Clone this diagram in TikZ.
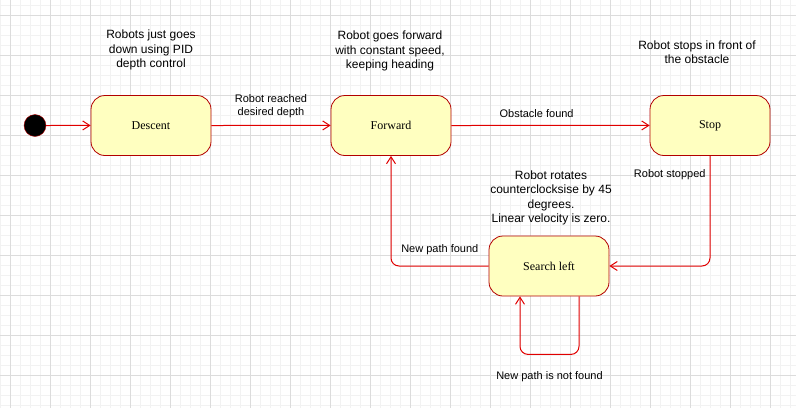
\documentclass[tikz,border=0pt]{standalone}
\usepackage{fontspec}
\setmainfont{Liberation Serif}
\newfontfamily\arialfont{Liberation Sans}
\usetikzlibrary{arrows.meta}

\definecolor{riempimento}{HTML}{FFFFC0}
\definecolor{bordo}{HTML}{B20000}
\definecolor{linea}{HTML}{E00000}
\definecolor{grigliaminore}{HTML}{F2F2F2}
\definecolor{grigliamaggiore}{HTML}{DCDCDC}

\tikzset{
  stato/.style={draw=bordo, fill=riempimento, line width=0.8pt, rounded corners=14pt,
    minimum width=120pt, minimum height=60pt, inner sep=0pt, text=black, font=\fontsize{12}{14}\selectfont},
  freccia/.style={draw=linea, line width=1pt, -{Straight Barb[length=7pt,width=9pt]}},
  etichetta/.style={font=\arialfont\fontsize{11}{13}\selectfont, align=center, inner sep=1pt, text=black},
  nota/.style={font=\arialfont\fontsize{12}{14.5}\selectfont, align=center, inner sep=0pt, text=black},
}

\begin{document}
\begin{tikzpicture}[x=1pt, y=-1pt]
% Definisci le dimensioni
\def\larghezza{796}
\def\altezza{408}
\useasboundingbox (0,0) rectangle (\larghezza,\altezza);

% Griglia di sfondo
\foreach \x in {0,10,...,790} \draw[grigliaminore, line width=0.6pt] (\x,0) -- (\x,\altezza);
\foreach \y in {5,15,...,405} \draw[grigliaminore, line width=0.6pt] (0,\y) -- (\larghezza,\y);
\foreach \x in {10,50,...,770} \draw[grigliamaggiore, line width=0.6pt] (\x,0) -- (\x,\altezza);
\foreach \y in {15,55,...,375} \draw[grigliamaggiore, line width=0.6pt] (0,\y) -- (\larghezza,\y);

% Stato iniziale e stati
\node[draw=bordo, fill=black, circle, minimum size=22pt, inner sep=0pt] (inizio) at (35,125.5) {};
\node[stato] (descent) at (151,125.5) {Descent};
\node[stato] (forward) at (391,125.5) {Forward};
\node[stato] (stop) at (710,125.5) {Stop};
\node[stato] (search) at (549,266) {Search left};

% Note sopra gli stati
\node[nota] (notadescent) at (151,50) {Robots just goes\\down using PID\\depth control};
\node[nota] (notaforward) at (390,51) {Robot goes forward\\with constant speed,\\keeping heading};
\node[nota] (notastop) at (697,52) {Robot stops in front of\\the obstacle};
\node[nota] (notasearch) at (551,198) {Robot rotates\\counterclocksise by 45\\degrees.\\Linear velocity is zero.};

% Transizioni
\draw[freccia] (inizio.east) -- ([yshift=0.05pt]descent.west);
\draw[freccia] (descent.east) -- node[etichetta, above=6pt] {Robot reached\\desired depth} ([yshift=0.05pt]forward.west);
\draw[freccia] (forward.east) -- node[etichetta, pos=0.43, above=6pt] {Obstacle found} ([yshift=0.05pt]stop.west);
\draw[freccia, rounded corners=8pt] (stop) |- node[etichetta, pos=0.085, left=3pt] {Robot stopped} (search);
\draw[freccia, rounded corners=8pt] (search) -| node[etichetta, pos=0.25, above=10pt] {New path found} (forward);
\draw[freccia, rounded corners=8pt] ([xshift=30pt]search.south) -- ++(0,58)
  -| node[etichetta, pos=0.25, below=16pt] {New path is not found} ([xshift=-29pt]search.south);

\end{tikzpicture}
\end{document}
